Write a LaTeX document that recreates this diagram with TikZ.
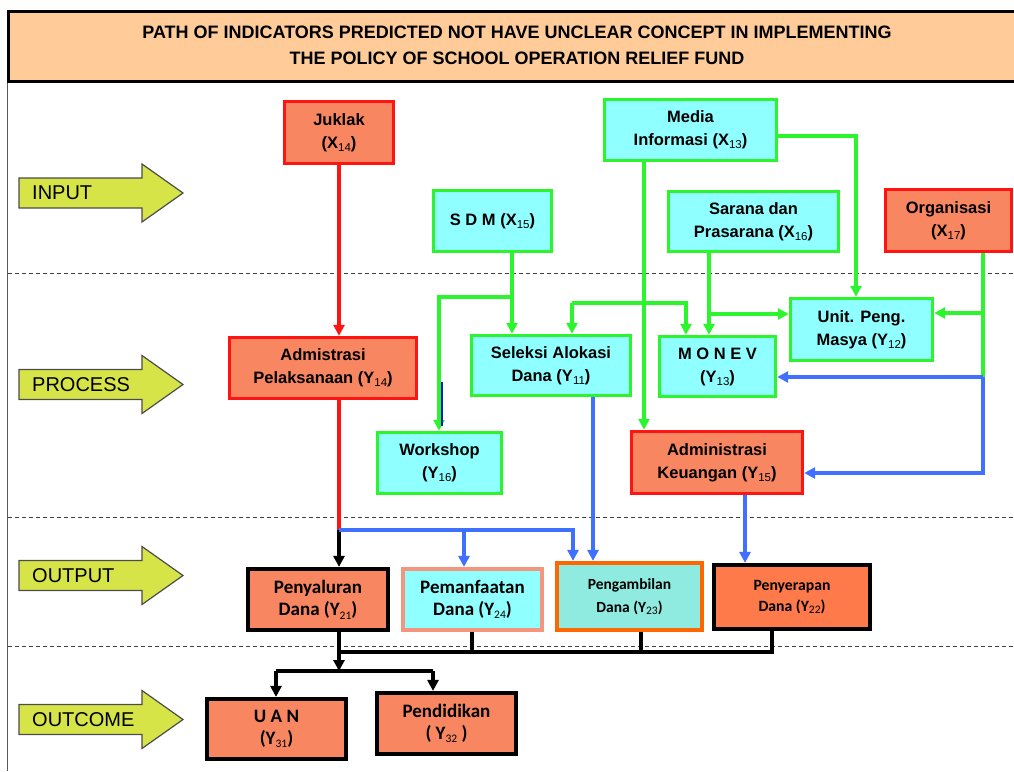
\documentclass[tikz,border=0pt]{standalone}
\usepackage{fontspec}
\setmainfont{Liberation Sans}
\newfontfamily\calib{Carlito}
\usetikzlibrary{arrows.meta}
\definecolor{salmon}{RGB}{248,134,96}
\definecolor{redb}{RGB}{255,20,20}
\definecolor{grnb}{RGB}{45,245,45}
\definecolor{cyanf}{RGB}{143,255,255}
\definecolor{bluel}{RGB}{64,112,255}
\definecolor{dblue}{RGB}{20,20,200}
\definecolor{yarr}{RGB}{214,228,72}
\definecolor{titlec}{RGB}{255,204,153}
\definecolor{pyrf}{RGB}{255,122,74}
\definecolor{ngbf}{RGB}{143,235,224}
\definecolor{ngbb}{RGB}{255,102,0}
\definecolor{pmfb}{RGB}{244,150,125}
\newcommand{\ix}[1]{\raisebox{-0.35ex}{\fontsize{11.5}{11.5}\mdseries\selectfont #1}}
\tikzset{
  box/.style={draw, line width=3.4pt, inner sep=0pt, align=center,
    font=\fontsize{16.5}{23}\selectfont\bfseries},
  redbox/.style={box, draw=redb, fill=salmon},
  grnbox/.style={box, draw=grnb, fill=cyanf},
  outbox/.style={box, line width=4.2pt, draw=black, fill=salmon,
    font=\calib\fontsize{19}{22.5}\selectfont\bfseries},
  tip/.style={-{Triangle[length=11pt,width=11pt]}},
  redln/.style={draw=redb, line width=3.2pt},
  grnln/.style={draw=grnb, line width=3.2pt},
  bluln/.style={draw=bluel, line width=3.2pt},
  blkln/.style={draw=black, line width=3.8pt},
  yarrow/.style={draw=black!70, line width=1.2pt, fill=yarr},
  ylab/.style={anchor=west, inner sep=0pt, font=\fontsize{20}{20}\selectfont},
  dashl/.style={draw=black!75, line width=1pt, dash pattern=on 4pt off 3pt},
}
\begin{document}
\begin{tikzpicture}[x=1pt,y=-1pt]
\useasboundingbox (0,0) rectangle (1014,771);
\clip (0,0) rectangle (1014,771);
% title
\draw[line width=3pt, fill=titlec] (8,11.5) rectangle (1030,81.5);
\node[anchor=base, inner sep=0pt, font=\fontsize{18}{18}\selectfont\bfseries] (title1) at (517,38)
  {PATH OF INDICATORS PREDICTED NOT HAVE UNCLEAR CONCEPT IN IMPLEMENTING};
\node[anchor=base, inner sep=0pt, font=\fontsize{18}{18}\selectfont\bfseries] (title2) at (517,64)
  {THE POLICY OF SCHOOL OPERATION RELIEF FUND};
% frame and separators
\draw[draw=black!65, line width=1.6pt] (7.5,83) -- (7.5,771);
\foreach \yy in {273,517,646} \draw[dashl] (8,\yy) -- (1014,\yy);
% stage arrows
\foreach \cy/\lab in {193/INPUT,384.5/PROCESS,575.5/OUTPUT,719.5/OUTCOME}{
  \draw[yarrow] (19,\cy-15) -- (142,\cy-15) -- (142,\cy-29) -- (183,\cy)
     -- (142,\cy+29) -- (142,\cy+15) -- (19,\cy+15) -- cycle;
  \node[ylab] (lab-\lab) at (32,\cy) {\lab};
}
% input boxes
\node[redbox, minimum width=109pt, minimum height=62pt] (jk) at (339,132.5) {Juklak\\(X\ix{14})};
\node[grnbox, minimum width=118pt, minimum height=61pt] (sdm) at (492.5,221) {S D M (X\ix{15})};
\node[grnbox, minimum width=172pt, minimum height=61pt] (med) at (690.5,130) {Media\\Informasi (X\ix{13})};
\node[grnbox, minimum width=170pt, minimum height=60pt] (sar) at (753.5,221.5) {Sarana dan\\Prasarana (X\ix{16})};
\node[redbox, minimum width=126pt, minimum height=62pt] (org) at (948.5,220.5) {Organisasi\\(X\ix{17})};
% process boxes
\node[redbox, minimum width=187pt, minimum height=61pt] (adp) at (323,368) {Admistrasi\\Pelaksanaan (Y\ix{14})};
\node[grnbox, minimum width=159pt, minimum height=60pt] (sel) at (551,365.5) {Seleksi Alokasi\\Dana (Y\ix{11})};
\node[grnbox, minimum width=116pt, minimum height=60pt] (mon) at (717.5,366.5) {M O N E V\\(Y\ix{13})};
\node[grnbox, minimum width=142pt, minimum height=62pt] (unit) at (861.5,329.5) {Unit. Peng.\\Masya (Y\ix{12})};
\node[grnbox, minimum width=124pt, minimum height=61pt] (ws) at (439.5,463) {Workshop\\(Y\ix{16})};
\node[redbox, minimum width=171pt, minimum height=62pt] (ak) at (717,462.5) {Administrasi\\Keuangan (Y\ix{15})};
% output boxes
\node[outbox, minimum width=140pt, minimum height=61pt] (pny) at (318,599.5) {Penyaluran\\Dana (Y\ix{21})};
\node[outbox, draw=pmfb, fill=cyanf, minimum width=139pt, minimum height=61pt] (pmf) at (472.5,599.5) {Pemanfaatan\\Dana (Y\ix{24})};
\node[outbox, draw=ngbb, fill=ngbf, minimum width=145pt, minimum height=67pt,
  font=\calib\fontsize{15.5}{23}\selectfont\bfseries] (ngb) at (629.5,596.5) {Pengambilan\\Dana (Y\ix{23})};
\node[outbox, fill=pyrf, minimum width=156pt, minimum height=64pt,
  font=\calib\fontsize{15.7}{21}\selectfont\bfseries] (pyr) at (792,597) {Penyerapan\\Dana (Y\ix{22})};
% outcome boxes
\node[outbox, minimum width=139pt, minimum height=60pt] (uan) at (276.5,729) {U A N\\(Y\ix{31})};
\node[outbox, minimum width=139pt, minimum height=61pt] (pend) at (446.5,723.5) {Pendidikan\\( Y\ix{32} )};
% Juklak -> Admistrasi
\draw[redln, tip] (jk.south) -- (jk.south |- adp.north);
\coordinate (j1) at (339,530);
\coordinate (j2) at (573,530);
\coordinate (j3) at (464,530);
\draw[redln] (jk.south |- adp.south) -- (j1);
\draw[blkln, tip] (j1) -- (j1 |- pny.north);
\draw[bluln, tip] (j1) -- (j2) -- (j2 |- ngb.north);
\draw[bluln, tip] (j3) -- (j3 |- pmf.north);
% SDM
\coordinate (s1) at (512,297);
\coordinate (s2) at (439,297);
\draw[grnln, tip] ([xshift=19.5pt]sdm.south) -- ([xshift=19.5pt]sdm.south |- sel.north);
\draw[grnln, tip] (s1) -- (s2) -- (s2 |- ws.north);
\draw[draw=dblue, line width=2.6pt] (442,382) -- (442,426);
% Media
\coordinate (m1) at (572,303);
\coordinate (m2) at (686,303);
\coordinate (m3) at (856,136);
\draw[grnln, tip] ([xshift=-46.5pt]med.south) -- ([xshift=-46.5pt]med.south |- ak.north);
\draw[grnln, tip] (m1) -- (m1 |- sel.north);
\draw[grnln, tip] (m1) -- (m2) -- (m2 |- mon.north);
\draw[grnln, tip] (m3 -| med.east) -- (m3) -- (m3 |- unit.north);
% Sarana
\coordinate (r1) at (709,314);
\draw[grnln, tip] ([xshift=-44.5pt]sar.south) -- ([xshift=-44.5pt]sar.south |- mon.north);
\draw[grnln, tip] (r1) -- (r1 -| unit.west);
% Organisasi
\coordinate (o1) at (983,313);
\coordinate (o2) at (983,377);
\coordinate (o3) at (983,473);
\draw[grnln] ([xshift=34.5pt]org.south) -- (o2);
\draw[grnln, tip] (o1) -- (o1 -| unit.east);
\draw[bluln, tip] (o2) -- (o2 -| mon.east);
\draw[bluln, tip] (o2) -- (o3) -- (o3 -| ak.east);
% to outputs
\draw[bluln, tip] ([xshift=42pt]sel.south) -- ([xshift=42pt]sel.south |- ngb.north);
\draw[bluln, tip] ([xshift=28pt]ak.south) -- ([xshift=28pt]ak.south |- pyr.north);
% output bus
\coordinate (b0) at (339,652);
\coordinate (b4) at (772,652);
\coordinate (c0) at (339,671);
\coordinate (c1) at (276,671);
\coordinate (c2) at (433,671);
\draw[blkln] (pny.south -| b0) -- (b0) -- (b4) -- (b4 |- pyr.south);
\draw[blkln] ([xshift=-0.5pt]pmf.south) -- ([xshift=-0.5pt]pmf.south |- b0);
\draw[blkln] ([xshift=11.5pt]ngb.south) -- ([xshift=11.5pt]ngb.south |- b0);
\draw[blkln, tip] (b0) -- (c0);
\draw[blkln] (c1) -- (c2);
\draw[blkln, tip] (c1) -- (c1 |- uan.north);
\draw[blkln, tip] (c2) -- (c2 |- pend.north);
\end{tikzpicture}
\end{document}
